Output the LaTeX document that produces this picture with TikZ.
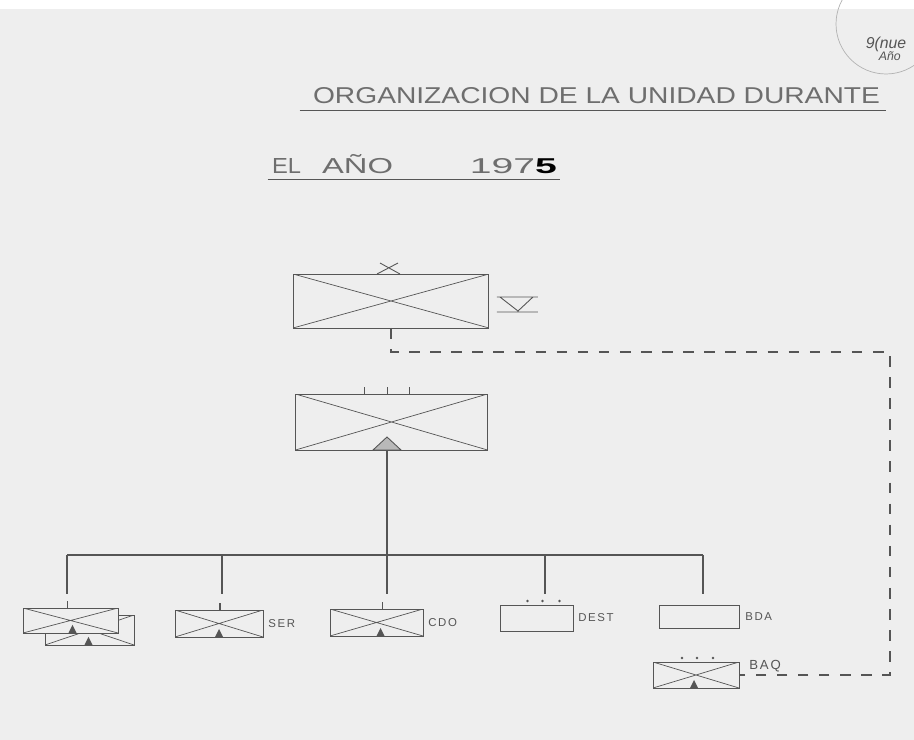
\documentclass[tikz,border=0pt]{standalone}
\usepackage{fontspec}
\setmainfont{Liberation Sans}
\newfontfamily\tagfont[LetterSpace=14]{Liberation Sans}
\usetikzlibrary{positioning,calc}
\definecolor{ink}{HTML}{555555}
\definecolor{paper}{HTML}{EEEEEE}
\begin{document}
\begin{tikzpicture}[x=.02cm,y=-.02cm,
unitbox/.style={draw=ink,line width=.55pt,inner sep=0,outer sep=0,fill=paper},
crossed/.style={unitbox,path picture={\draw[ink,line width=.4pt](path picture bounding box.north west)--(path picture bounding box.south east)(path picture bounding box.south west)--(path picture bounding box.north east);}},
link/.style={draw=ink,line width=.8pt},
dashlink/.style={draw=ink,line width=.85pt,dash pattern=on 6pt off 6pt},
tag/.style={font=\tagfont\fontsize{6.5}{6.5}\selectfont,text=ink,inner sep=0pt}]
\useasboundingbox(0,0) rectangle (914,740);
\fill[paper](0,0) rectangle (914,740);\fill[white](0,0) rectangle (914,9);
% sello
\coordinate (sello) at (886,24);
\draw[ink!45,line width=.4pt](sello) circle[radius=1cm];
\node[font=\itshape\fontsize{9}{9}\selectfont,text=ink,inner sep=0] (sellot) at (886,44) {9(nue};
\node[font=\itshape\fontsize{7}{7}\selectfont,text=ink,inner sep=0,below right=0pt and -16pt of sellot] (sellob) {Año};
% titulo
\node[text=ink!85,inner sep=0] (titulo) at (596.5,96) {\resizebox{11.34cm}{.32cm}{ORGANIZACION DE LA UNIDAD DURANTE}};
\draw[ink,line width=.5pt]($(titulo.south west)+(-13,6)$)--($(titulo.south east)+(6,6)$);
\node[text=ink!85,inner sep=0] (anio) at (414.5,164) {\resizebox{.58cm}{.3cm}{EL}\hspace{.42cm}\resizebox{1.42cm}{.38cm}{AÑO}\hspace{1.54cm}\resizebox{1.74cm}{.3cm}{197\textcolor{black}{\textbf{5}}}};
\draw[ink,line width=.5pt]($(anio.south west)+(-4,5)$)--($(anio.south east)+(3,5)$);
% unidades
\node[crossed,minimum width=3.92cm,minimum height=1.08cm] (mando) at (391,301) {};
\node[crossed,minimum width=3.84cm,minimum height=1.12cm] (unidad) at (391.5,422) {};
\node[crossed,minimum width=1.78cm,minimum height=.6cm] (cia2) at (89.5,630) {};
\node[crossed,minimum width=1.9cm,minimum height=.5cm] (cia1) at (70.5,620.5) {};
\node[crossed,minimum width=1.76cm,minimum height=.54cm] (ser) at (219,623.5) {};
\node[crossed,minimum width=1.86cm,minimum height=.54cm] (cdo) at (376.5,622.5) {};
\node[unitbox,minimum width=1.46cm,minimum height=.52cm] (dest) at (536.5,618) {};
\node[unitbox,minimum width=1.6cm,minimum height=.46cm] (bda) at (699,616.5) {};
\node[crossed,minimum width=1.72cm,minimum height=.52cm] (baq) at (696,675) {};
\node[tag,right=.1cm of ser] (serl) {SER};
\node[tag,right=.1cm of cdo] (cdol) {CDO};
\node[tag,right=.1cm of dest] (destl) {DEST};
\node[tag,right=.12cm of bda] (bdal) {BDA};
\node[tag,font=\tagfont\fontsize{7.5}{7.5}\selectfont,anchor=south west] (baql) at ($(baq.east)+(10,-3)$) {BAQ};
% signos
\draw[ink,line width=.5pt]($(mando.north)+(-14,0)$)--++(21,-11) ($(mando.north)+(9,0)$)--++(-20,-11);
\draw[ink,line width=.5pt]($(mando.east)+(8,-4)$)--++(41,0) ($(mando.east)+(8,11)$)--++(41,0) ($(mando.east)+(11,-4)$)--++(18,14)--++(15,-14);
\foreach \dx in {-27,-4,18}\draw[ink,line width=.6pt]($(unidad.north)+(\dx,0)$)--++(0,-7);
\foreach \n/\dx in {cia1/-3,ser/1,cdo/6}\draw[ink,line width=.6pt]($(\n.north)+(\dx,0)$)--++(0,-7);
\foreach \n/\l in {dest/{-9,6,23},baq/{-14,1,17}}\foreach \dx in \l\fill[ink]($(\n.north)+(\dx,-4)$) circle(.8pt);
\foreach \n/\dx in {cia1/2,cia2/-1,ser/0,cdo/4,baq/-2}\fill[ink]($(\n.south)+(\dx-4,0)$)--++(4,-8)--++(4,8)--cycle;
% enlaces
\foreach \x/\n in {67/cia1,222/ser,387/cdo,545/dest,703/bda}{\coordinate (j\n) at (\x,555);\draw[link](j\n)--++(0,39);}
\draw[link](jcia1)--(jbda);
\coordinate (pie) at (jcdo|-unidad.south);
\draw[link](pie)--(jcdo);
\filldraw[fill=gray!55,draw=ink,line width=.5pt]($(pie)+(-14,0)$)--++(14,-13)--++(14,13)--cycle;
\coordinate (esq) at (890,352);
\draw[dashlink](mando.south)|-(esq)|-(baq.east);
\end{tikzpicture}
\end{document}
